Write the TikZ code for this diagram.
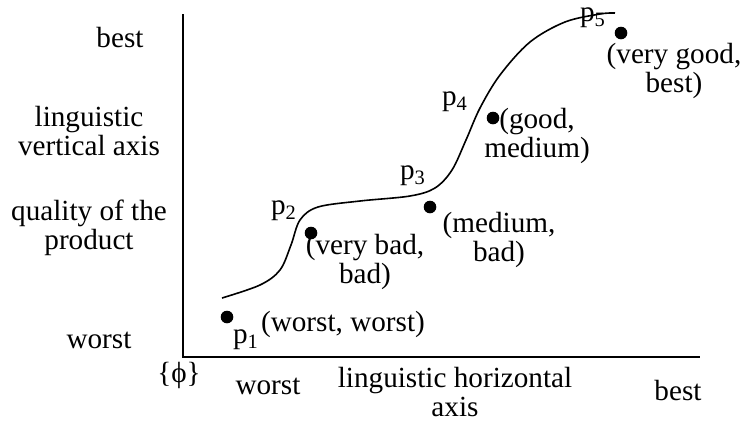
\documentclass[tikz,border=0pt]{standalone}
\usepackage{fontspec}
\setmainfont{Liberation Serif}
\usetikzlibrary{positioning}

\begin{document}
\begin{tikzpicture}[
  x=0.5pt, y=-0.5pt,
  font=\fontsize{14.6pt}{14.5pt}\selectfont,
  lbl/.style={inner sep=0pt, align=center},
  dot/.style={circle, fill=black, inner sep=0pt, minimum size=6.3pt},
  axis/.style={line width=1pt},
  curve/.style={line width=0.8pt},
]
\useasboundingbox (0,0) rectangle (745,424);

% ============ axes ============
\coordinate (top) at (183,14);
\coordinate (org) at (183,357);
\coordinate (right) at (700,357);
\draw[axis] (top) -- (org) -- (right);

% ---- vertical axis labels ----
\node[lbl] (vbest) at (120,38) {best};
\node[lbl] (vname) at (89,131) {linguistic\\vertical axis};
\node[lbl] (vqual) at (89,228) {quality of the\\product};
\node[lbl] (vworst) at (99,340) {worst};
\node[lbl] (phi) at (179,375) {\{ϕ\}};

% ---- horizontal axis labels ----
\node[lbl] (hworst) at (268,386) {worst};
\node[lbl] (hname) at (455,392) {linguistic horizontal\\axis};
\node[lbl] (hbest) at (678,391) {best};

% ============ curve ============
\draw[curve] plot[smooth, tension=0.55] coordinates {
  (222,298) (260,285) (280,270) (291,245) (300,220) (318,207)
  (360,201) (410,196) (435,188) (452,170) (466,140) (480,108)
  (500,75) (530,42) (565,22) (600,14) (615,13)};

% ============ points ============
\node[dot] (p1) at (227,317) {};
\node[dot] (p2) at (311,233) {};
\node[dot] (p3) at (430,207) {};
\node[dot] (p4) at (493,118) {};
\node[dot] (p5) at (621,33) {};

\node[lbl] (p1n) at (246,340) {p\textsubscript{1}};
\node[lbl] (p2n) at (284,211) {p\textsubscript{2}};
\node[lbl] (p3n) at (413,176) {p\textsubscript{3}};
\node[lbl] (p4n) at (455,102) {p\textsubscript{4}};
\node[lbl] (p5n) at (593,18) {p\textsubscript{5}};

\node[lbl] (p1t) at (343,324) {(worst, worst)};
\node[lbl] (p2t) at (365,262) {(very bad,\\bad)};
\node[lbl] (p3t) at (499,240) {(medium,\\bad)};
\node[lbl] (p4t) at (537,136) {(good,\\medium)};
\node[lbl] (p5t) at (674,71) {(very good,\\best)};
\end{tikzpicture}
\end{document}
